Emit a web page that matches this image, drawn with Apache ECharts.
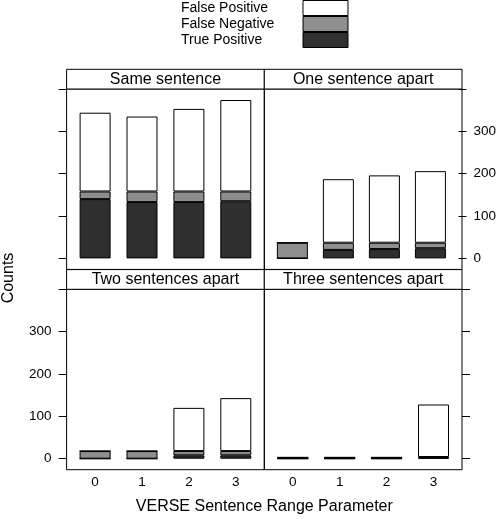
<!DOCTYPE html>
<html>
<head>
<meta charset="utf-8">
<script src="https://cdn.jsdelivr.net/npm/echarts@6/dist/echarts.min.js"></script>
<style>html,body{margin:0;padding:0;background:#fff}#c{width:499px;height:519px}</style>
</head>
<body>
<div id="c"></div>
<script>
// ---- data ----
const categories = ['0', '1', '2', '3'];
const panelTitles = ['Same sentence', 'One sentence apart', 'Two sentences apart', 'Three sentences apart'];
const seriesNames = ['True Positive', 'False Negative', 'False Positive'];
const truePositive = [
  [140, 133, 133, 135],
  [0, 20, 22, 24],
  [0, 0, 8, 8],
  [0, 0, 0, 2]
];
const falseNegative = [
  [18, 25, 25, 23],
  [37, 17, 15, 13],
  [18, 18, 10, 10],
  [3, 3, 3, 2]
];
const falsePositive = [
  [186, 177, 195, 216],
  [0, 150, 159, 169],
  [0, 0, 102, 125],
  [0, 0, 0, 124]
];
const yTicks = [0, 100, 200, 300, 400];
const yTickLabels = [0, 100, 200, 300];

// ---- layout ----
const FONT = 'Liberation Sans, Arial, Helvetica, sans-serif';
const PW = 197.7, PH = 180.4, SH = 19.7;
const BAND = 46.9;                       // category spacing
const INSET = (PW - 4 * BAND) / 2;       // gap between panel edge and first band
const panels = [
  { left: 66.6, top: 89, yPos: 'left', yLab: false, xLab: false },
  { left: 264.3, top: 89, yPos: 'right', yLab: true, xLab: false },
  { left: 66.6, top: 289.3, yPos: 'left', yLab: true, xLab: true },
  { left: 264.3, top: 289.3, yPos: 'right', yLab: false, xLab: true }
];
const colors = { 'True Positive': '#2f2f2f', 'False Negative': '#8e8e8e', 'False Positive': '#ffffff' };
const valueSets = [truePositive, falseNegative, falsePositive];

const grid = [], xAxis = [], yAxis = [], series = [], graphic = [];
panels.forEach((p, i) => {
  grid.push({ left: p.left + INSET, top: p.top, width: 4 * BAND, height: PH });
  xAxis.push({
    type: 'category', gridIndex: i, data: categories, boundaryGap: true,
    axisLine: { show: false, onZero: false }, axisTick: { show: false }, splitLine: { show: false },
    axisLabel: { show: p.xLab, margin: 6, fontSize: 13.5, color: '#000', fontFamily: FONT }
  });
  yAxis.push({
    type: 'value', gridIndex: i, min: -26, max: 400, position: p.yPos, offset: INSET,
    axisLine: { show: false, onZero: false }, splitLine: { show: false },
    axisTick: { show: true, length: 8, customValues: yTicks, lineStyle: { color: '#000', width: 1 } },
    axisLabel: { show: p.yLab, customValues: yTickLabels, margin: 15, fontSize: 13.5, color: '#000', fontFamily: FONT }
  });
  seriesNames.forEach((name, k) => {
    series.push({
      type: 'bar', name: name, xAxisIndex: i, yAxisIndex: i, stack: 'p' + i,
      barWidth: 31,
      itemStyle: { color: colors[name], borderColor: '#000', borderWidth: 1 },
      data: valueSets[k][i]
    });
  });
  graphic.push({ type: 'rect', shape: { x: p.left, y: p.top, width: PW, height: PH }, style: { fill: 'none', stroke: '#000', lineWidth: 1 }, z: 10 });
  graphic.push({ type: 'rect', shape: { x: p.left, y: p.top - SH, width: PW, height: SH }, style: { fill: '#fff', stroke: '#000', lineWidth: 1 }, z: 10 });
  graphic.push({ type: 'text', x: p.left + PW / 2, y: p.top - SH / 2 + 0.5, style: { text: panelTitles[i], align: 'center', verticalAlign: 'middle', fontSize: 16, fontFamily: FONT, fill: '#000' }, z: 11 });
});
graphic.push({ type: 'text', x: 264.3, y: 507, style: { text: 'VERSE Sentence Range Parameter', align: 'center', verticalAlign: 'middle', fontSize: 16, fontFamily: FONT, fill: '#000' } });
graphic.push({ type: 'text', x: 9, y: 278, rotation: Math.PI / 2, style: { text: 'Counts', align: 'center', verticalAlign: 'middle', fontSize: 16, fontFamily: FONT, fill: '#000' } });

const chart = echarts.init(document.getElementById('c'), null, { renderer: 'canvas' });
chart.setOption({
  animation: false,
  backgroundColor: '#fff',
  legend: {
    left: 181, top: 0, padding: 0, orient: 'vertical', align: 'right',
    itemWidth: 45, itemHeight: 15, itemGap: 0, icon: 'rect', selectedMode: false,
    data: ['False Positive', 'False Negative', 'True Positive'],
    formatter: n => '{a|' + n + '}',
    itemStyle: { borderColor: '#000', borderWidth: 1 },
    textStyle: { fontSize: 14, color: '#000', fontFamily: FONT, rich: { a: { width: 117, align: 'left', fontSize: 14, lineHeight: 15, fontFamily: FONT, color: '#000' } } }
  },
  grid, xAxis, yAxis, series, graphic
});
</script>
</body>
</html>
